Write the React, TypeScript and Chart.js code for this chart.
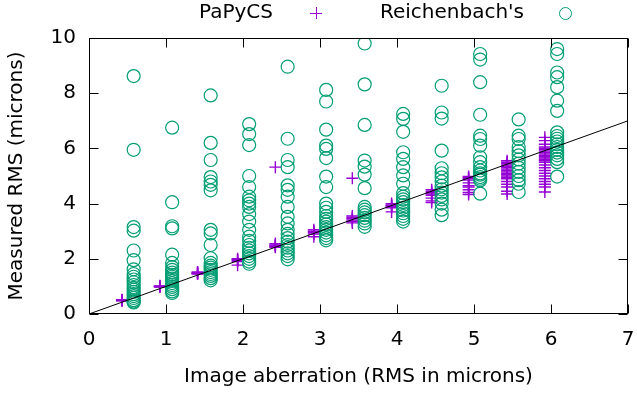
import React, { useEffect, useRef } from 'react';
import { Chart, registerables } from 'chart.js';

Chart.register(...registerables);

const xTickValues = [0, 1, 2, 3, 4, 5, 6, 7];
const yTickValues = [0, 2, 4, 6, 8, 10];

const seriesNames = ['PaPyCS', "Reichenbach's"];

const papycsX = [0.43, 0.92, 1.41, 1.93, 2.42, 2.92, 3.42, 3.93, 4.45, 4.93, 5.43, 5.92];
const papycsY = [
  [0.5, 0.52, 0.48, 0.49, 0.51],
  [1.0, 0.98, 1.02, 0.99, 1.01],
  [1.48, 1.5, 1.45, 1.47, 1.52],
  [1.95, 2.0, 1.9, 1.97, 1.77],
  [5.32, 2.5, 2.45, 2.42, 2.55, 2.48],
  [2.98, 3.0, 2.9, 2.8, 3.05, 2.95],
  [4.92, 3.5, 3.45, 3.4, 3.3, 3.55, 3.35],
  [3.95, 3.9, 3.85, 3.7, 4.0, 3.92],
  [4.45, 4.4, 4.35, 4.3, 4.2, 4.1, 4.04, 4.5],
  [4.98, 4.94, 4.9, 4.85, 4.75, 4.65, 4.6, 4.5, 4.4, 4.33],
  [5.55, 5.5, 5.45, 5.4, 5.35, 5.3, 5.25, 5.2, 5.15, 5.1, 5.05, 5.0, 4.95, 4.9, 4.8, 4.7, 4.6, 4.45, 4.35],
  [6.4, 6.28, 6.15, 6.05, 6.0, 5.95, 5.9, 5.85, 5.8, 5.75, 5.7, 5.65, 5.6, 5.55, 5.5, 5.4, 5.3, 5.2, 5.1, 5.0, 4.9, 4.8, 4.7, 4.6, 4.42],
];

const reichX = [0.58, 1.08, 1.58, 2.08, 2.58, 3.08, 3.58, 4.08, 4.58, 5.08, 5.58, 6.08];
const reichY = [
  [8.62, 5.95, 3.15, 3.02, 2.3, 1.95, 1.62, 1.45, 1.35, 1.25, 1.15, 1.05, 0.95, 0.88, 0.8, 0.72, 0.65, 0.58, 0.5, 0.45, 0.42],
  [6.75, 4.05, 3.18, 3.1, 2.15, 1.85, 1.7, 1.6, 1.5, 1.42, 1.35, 1.28, 1.2, 1.12, 1.05, 0.98, 0.9, 0.82, 0.76],
  [7.92, 6.2, 5.58, 4.96, 4.8, 4.68, 4.48, 3.05, 2.92, 2.5, 2.02, 1.85, 1.75, 1.68, 1.6, 1.52, 1.45, 1.38, 1.3, 1.22],
  [6.88, 6.52, 6.12, 5.0, 4.6, 4.25, 4.12, 4.0, 3.88, 3.62, 3.35, 3.05, 2.8, 2.65, 2.5, 2.4, 2.3, 2.2, 2.1, 2.0, 1.9, 1.82],
  [8.96, 6.35, 5.58, 5.32, 4.66, 4.5, 4.25, 3.88, 3.52, 3.28, 3.05, 2.9, 2.75, 2.62, 2.5, 2.4, 2.3, 2.2, 2.1, 1.98],
  [8.12, 7.7, 6.68, 6.1, 5.98, 5.65, 4.98, 4.6, 4.0, 3.85, 3.7, 3.55, 3.45, 3.35, 3.25, 3.15, 3.05, 2.95, 2.85, 2.75, 2.67],
  [9.8, 8.32, 6.85, 5.56, 5.34, 5.05, 4.56, 3.88, 3.78, 3.68, 3.58, 3.48, 3.38, 3.28, 3.16],
  [7.25, 7.07, 6.6, 5.86, 5.62, 5.32, 5.02, 4.72, 4.38, 4.25, 4.15, 4.05, 3.95, 3.85, 3.75, 3.65, 3.55, 3.45, 3.35],
  [8.27, 7.3, 7.08, 5.92, 5.28, 5.1, 4.95, 4.8, 4.65, 4.52, 4.4, 4.28, 4.15, 4.0, 3.78, 3.58],
  [9.42, 9.22, 8.4, 7.22, 6.46, 6.34, 6.1, 5.68, 5.5, 5.32, 5.2, 5.1, 5.05, 4.96, 4.9, 4.84, 4.36],
  [7.05, 6.46, 6.34, 6.05, 5.9, 5.75, 5.6, 5.45, 5.3, 5.15, 5.0, 4.85, 4.72, 4.42],
  [9.6, 9.42, 8.75, 8.58, 8.22, 7.73, 7.36, 6.58, 6.45, 6.35, 6.25, 6.15, 6.05, 5.95, 5.85, 5.75, 5.62, 5.5, 4.98],
];

const lineX = [0, 7];
const lineY = [0, 7];

const PURPLE = '#9400D3';
const GREEN = '#009E73';
const FONT = '"DejaVu Sans", sans-serif';
const FS = 20;

function toPoints(xs: number[], ys: number[][]) {
  const out: { x: number; y: number }[] = [];
  xs.forEach((x, i) => ys[i].forEach((y) => out.push({ x, y })));
  return out;
}

const framePlugin = {
  id: 'gnuplotFrame',
  afterDraw(chart: any) {
    const { ctx, chartArea, scales } = chart;
    const { left, right, top, bottom } = chartArea;
    ctx.save();
    ctx.strokeStyle = '#000';
    ctx.lineWidth = 1;
    const L = Math.round(left) + 0.5;
    const R = Math.round(right) - 0.5;
    const T = Math.round(top) + 0.5;
    const B = Math.round(bottom) - 0.5;
    ctx.strokeRect(L, T, R - L, B - T);
    const tl = 9;
    ctx.beginPath();
    xTickValues.forEach((v) => {
      const px = Math.round(scales.x.getPixelForValue(v)) + 0.5;
      ctx.moveTo(px, B);
      ctx.lineTo(px, B - tl);
      ctx.moveTo(px, T);
      ctx.lineTo(px, T + tl);
    });
    yTickValues.forEach((v) => {
      const py = Math.round(scales.y.getPixelForValue(v)) + 0.5;
      ctx.moveTo(L, py);
      ctx.lineTo(L + tl, py);
      ctx.moveTo(R, py);
      ctx.lineTo(R - tl, py);
    });
    ctx.stroke();

    // legend (gnuplot style: text, then sample)
    ctx.font = `${FS}px ${FONT}`;
    ctx.fillStyle = '#000';
    ctx.textAlign = 'right';
    ctx.textBaseline = 'middle';
    const ly = 13;
    ctx.fillText(seriesNames[0], 273, ly);
    ctx.strokeStyle = PURPLE;
    ctx.beginPath();
    ctx.moveTo(310, ly + 0.5);
    ctx.lineTo(322, ly + 0.5);
    ctx.moveTo(316.5, ly - 6);
    ctx.lineTo(316.5, ly + 6);
    ctx.stroke();
    ctx.fillText(seriesNames[1], 524, ly);
    ctx.strokeStyle = GREEN;
    ctx.beginPath();
    ctx.arc(565.5, ly + 0.5, 6, 0, Math.PI * 2);
    ctx.stroke();
    ctx.restore();
  },
};

export default function App() {
  const ref = useRef<HTMLCanvasElement | null>(null);
  useEffect(() => {
    if (!ref.current) return;
    const chart = new Chart(ref.current, {
      type: 'scatter',
      data: {
        datasets: [
          {
            label: 'y = x',
            type: 'line',
            data: lineX.map((x, i) => ({ x, y: lineY[i] })),
            borderColor: '#000',
            borderWidth: 1,
            pointRadius: 0,
            showLine: true,
            fill: false,
            order: 0,
          } as any,
          {
            label: seriesNames[1],
            data: toPoints(reichX, reichY),
            pointStyle: 'circle',
            pointRadius: 6.5,
            borderColor: GREEN,
            backgroundColor: 'rgba(0,0,0,0)',
            borderWidth: 1.2,
            order: 1,
          },
          {
            label: seriesNames[0],
            data: toPoints(papycsX, papycsY),
            pointStyle: 'cross',
            pointRadius: 6,
            borderColor: PURPLE,
            backgroundColor: PURPLE,
            borderWidth: 1.4,
            order: 2,
          },
        ],
      },
      options: {
        responsive: false,
        animation: false,
        events: [],
        layout: { padding: { top: 38, right: 9, left: 0, bottom: 0 } },
        plugins: { legend: { display: false }, tooltip: { enabled: false } },
        scales: {
          x: {
            type: 'linear',
            min: 0,
            max: 7,
            ticks: { stepSize: 1, color: '#000', font: { family: FONT, size: FS }, padding: 14 },
            grid: { display: false, drawTicks: false },
            border: { display: false },
            title: {
              display: true,
              text: 'Image aberration (RMS in microns)',
              color: '#000',
              font: { family: FONT, size: FS },
              padding: { top: 0, bottom: 5 },
            },
            afterFit: (s: any) => {
              s.height = 80;
              s.paddingLeft = 0;
              s.paddingRight = 0;
            },
          },
          y: {
            type: 'linear',
            min: 0,
            max: 10,
            ticks: { stepSize: 2, color: '#000', font: { family: FONT, size: FS }, padding: 13 },
            grid: { display: false, drawTicks: false },
            border: { display: false },
            title: {
              display: true,
              text: 'Measured RMS (microns)',
              color: '#000',
              font: { family: FONT, size: FS },
              padding: { top: 5, bottom: 0 },
            },
            afterFit: (s: any) => {
              s.width = 89;
              s.paddingTop = 0;
              s.paddingBottom = 0;
            },
          },
        },
      },
      plugins: [framePlugin],
    });
    return () => chart.destroy();
  }, []);
  return (
    <div style={{ position: 'absolute', left: 0, top: 0, width: 637, height: 394 }}>
      <canvas ref={ref} width={637} height={394} />
    </div>
  );
}
